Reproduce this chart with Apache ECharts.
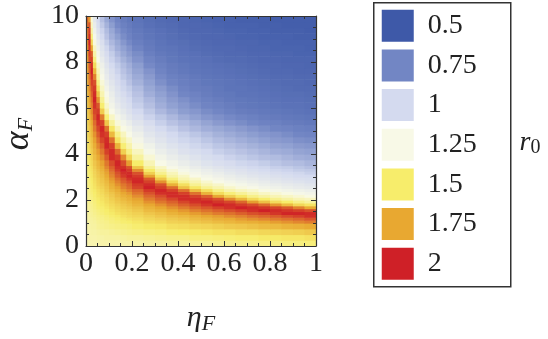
<!DOCTYPE html>
<html><head><meta charset="utf-8">
<script src="https://cdn.jsdelivr.net/npm/echarts@6/dist/echarts.min.js"></script>
<style>html,body{margin:0;padding:0;background:#fff}#c{width:548px;height:339px}</style>
</head><body><div id="c"></div>
<script>
const FONT = '"Liberation Serif","Times New Roman",serif';
// cell edges (eta_F columns, alpha_F rows)
const etaEdges = [0,0.01,0.02,0.03,0.045,0.06,0.08,0.1,0.125,0.15,0.175,0.2,0.25,0.3,0.35,0.4,0.45,0.5,0.55,0.6,0.65,0.7,0.75,0.8,0.85,0.9,0.95,1];
const alphaEdges = [0,0.25,0.5,0.75,1,
  1.125,1.25,1.375,1.5,1.625,1.75,1.875,2,2.125,2.25,2.375,2.5,2.625,2.75,2.875,3,3.125,3.25,3.375,3.5,
  3.75,4,4.25,4.5,4.75,5,
  5.25,5.5,5.75,6,6.25,6.5,6.75,7,7.25,7.5,7.75,8,8.25,8.5,8.75,9,9.25,9.5,9.75,10];
// r0: one row per alpha band (bottom to top), one value per eta band
const r0Values = [
[1.36,1.36,1.36,1.36,1.37,1.37,1.37,1.37,1.37,1.38,1.38,1.38,1.39,1.39,1.40,1.40,1.41,1.41,1.42,1.43,1.44,1.44,1.45,1.45,1.46,1.46,1.47],
[1.36,1.37,1.37,1.37,1.38,1.38,1.39,1.39,1.39,1.40,1.41,1.41,1.42,1.43,1.44,1.44,1.46,1.46,1.47,1.48,1.49,1.49,1.51,1.51,1.52,1.52,1.54],
[1.37,1.37,1.38,1.38,1.39,1.40,1.40,1.41,1.42,1.43,1.44,1.45,1.46,1.47,1.49,1.50,1.51,1.52,1.54,1.54,1.56,1.56,1.58,1.59,1.60,1.61,1.63],
[1.37,1.38,1.39,1.39,1.41,1.42,1.43,1.44,1.45,1.46,1.47,1.49,1.51,1.52,1.55,1.56,1.58,1.59,1.61,1.63,1.64,1.66,1.68,1.69,1.71,1.72,1.74],
[1.38,1.39,1.39,1.40,1.42,1.43,1.44,1.46,1.47,1.49,1.50,1.52,1.55,1.57,1.60,1.61,1.64,1.66,1.68,1.70,1.72,1.73,1.75,1.77,1.79,1.81,1.83],
[1.38,1.39,1.40,1.41,1.43,1.44,1.46,1.47,1.49,1.51,1.53,1.55,1.58,1.60,1.63,1.65,1.68,1.70,1.73,1.74,1.77,1.79,1.81,1.83,1.85,1.87,1.90],
[1.38,1.40,1.41,1.42,1.44,1.45,1.47,1.49,1.51,1.54,1.56,1.58,1.61,1.64,1.67,1.69,1.72,1.75,1.77,1.80,1.82,1.85,1.87,1.89,1.92,1.94,1.97],
[1.39,1.40,1.41,1.43,1.45,1.47,1.49,1.51,1.54,1.56,1.58,1.60,1.64,1.67,1.71,1.74,1.77,1.80,1.83,1.85,1.88,1.91,1.93,1.96,1.99,1.99,1.98],
[1.39,1.41,1.42,1.44,1.46,1.48,1.50,1.53,1.56,1.58,1.60,1.63,1.68,1.71,1.75,1.78,1.82,1.85,1.88,1.91,1.94,1.97,2.00,1.98,1.96,1.94,1.91],
[1.40,1.41,1.43,1.45,1.48,1.49,1.52,1.55,1.58,1.61,1.63,1.66,1.71,1.75,1.79,1.83,1.87,1.90,1.94,1.97,2.00,1.98,1.96,1.93,1.89,1.82,1.74],
[1.40,1.42,1.43,1.46,1.49,1.51,1.54,1.57,1.60,1.63,1.66,1.70,1.75,1.79,1.84,1.88,1.92,1.96,2.00,1.98,1.95,1.92,1.86,1.78,1.68,1.58,1.53],
[1.40,1.43,1.44,1.47,1.50,1.52,1.56,1.59,1.63,1.66,1.69,1.73,1.79,1.84,1.88,1.93,1.97,1.99,1.96,1.93,1.87,1.77,1.66,1.56,1.50,1.44,1.40],
[1.41,1.43,1.45,1.48,1.51,1.54,1.57,1.61,1.65,1.69,1.72,1.76,1.83,1.88,1.93,1.98,1.98,1.95,1.91,1.80,1.69,1.57,1.50,1.43,1.39,1.35,1.33],
[1.41,1.44,1.46,1.49,1.53,1.55,1.59,1.63,1.68,1.72,1.75,1.80,1.87,1.92,1.98,1.98,1.94,1.88,1.75,1.61,1.52,1.44,1.39,1.35,1.32,1.29,1.26],
[1.42,1.45,1.47,1.50,1.54,1.57,1.61,1.65,1.70,1.75,1.78,1.84,1.91,1.97,1.98,1.94,1.85,1.71,1.56,1.47,1.41,1.36,1.32,1.29,1.26,1.23,1.21],
[1.42,1.45,1.48,1.51,1.55,1.58,1.63,1.68,1.73,1.78,1.82,1.87,1.95,1.99,1.94,1.85,1.68,1.55,1.44,1.37,1.33,1.30,1.26,1.23,1.21,1.19,1.17],
[1.43,1.46,1.49,1.53,1.57,1.60,1.65,1.71,1.76,1.82,1.86,1.93,2.00,1.95,1.86,1.66,1.52,1.42,1.36,1.31,1.27,1.24,1.21,1.19,1.16,1.14,1.12],
[1.43,1.47,1.49,1.54,1.59,1.62,1.67,1.73,1.79,1.84,1.88,1.95,1.98,1.91,1.72,1.55,1.42,1.35,1.31,1.26,1.23,1.20,1.17,1.15,1.13,1.11,1.09],
[1.44,1.47,1.50,1.55,1.60,1.64,1.69,1.76,1.82,1.88,1.92,1.99,1.94,1.79,1.57,1.43,1.36,1.30,1.25,1.22,1.19,1.16,1.14,1.11,1.09,1.07,1.05],
[1.44,1.48,1.51,1.56,1.61,1.65,1.71,1.78,1.85,1.90,1.96,1.98,1.89,1.64,1.46,1.36,1.31,1.25,1.22,1.18,1.15,1.13,1.10,1.08,1.06,1.04,1.03],
[1.45,1.49,1.52,1.58,1.63,1.67,1.74,1.81,1.89,1.95,1.99,1.95,1.76,1.52,1.38,1.32,1.25,1.22,1.18,1.15,1.12,1.09,1.07,1.05,1.03,1.01,1.00],
[1.45,1.50,1.53,1.59,1.64,1.69,1.76,1.83,1.91,1.97,1.98,1.91,1.61,1.43,1.34,1.27,1.22,1.18,1.15,1.11,1.08,1.06,1.04,1.02,1.00,0.99,0.97],
[1.46,1.51,1.54,1.60,1.66,1.71,1.78,1.86,1.95,2.00,1.95,1.80,1.51,1.37,1.29,1.23,1.19,1.15,1.11,1.08,1.06,1.03,1.01,0.99,0.98,0.96,0.95],
[1.46,1.51,1.55,1.62,1.68,1.73,1.81,1.88,1.97,1.97,1.91,1.65,1.42,1.32,1.24,1.20,1.15,1.11,1.08,1.05,1.03,1.00,0.99,0.97,0.96,0.94,0.92],
[1.47,1.53,1.57,1.64,1.70,1.76,1.84,1.92,1.99,1.92,1.77,1.50,1.35,1.25,1.20,1.15,1.11,1.07,1.04,1.02,0.99,0.98,0.96,0.94,0.92,0.91,0.89],
[1.49,1.54,1.59,1.67,1.74,1.80,1.89,1.98,1.95,1.81,1.58,1.40,1.29,1.21,1.15,1.11,1.07,1.03,1.01,0.98,0.96,0.94,0.92,0.91,0.89,0.87,0.86],
[1.50,1.56,1.62,1.70,1.77,1.84,1.94,1.98,1.87,1.61,1.45,1.33,1.23,1.16,1.11,1.06,1.03,1.00,0.97,0.95,0.93,0.91,0.89,0.87,0.86,0.84,0.83],
[1.51,1.58,1.64,1.73,1.81,1.88,1.99,1.94,1.71,1.48,1.37,1.27,1.19,1.12,1.07,1.03,0.99,0.97,0.94,0.92,0.90,0.88,0.86,0.84,0.83,0.81,0.80],
[1.52,1.60,1.66,1.76,1.85,1.93,1.98,1.85,1.54,1.39,1.31,1.22,1.14,1.08,1.03,0.99,0.97,0.94,0.91,0.89,0.87,0.85,0.83,0.81,0.80,0.78,0.77],
[1.54,1.62,1.69,1.79,1.89,1.97,1.94,1.69,1.44,1.33,1.25,1.18,1.10,1.05,1.00,0.97,0.94,0.91,0.88,0.86,0.84,0.82,0.80,0.79,0.77,0.75,0.74],
[1.55,1.64,1.71,1.83,1.93,1.99,1.85,1.52,1.35,1.26,1.21,1.13,1.06,1.01,0.97,0.93,0.90,0.87,0.85,0.83,0.81,0.79,0.77,0.75,0.74,0.72,0.71],
[1.56,1.66,1.74,1.86,1.97,1.94,1.64,1.40,1.28,1.21,1.15,1.08,1.02,0.97,0.93,0.90,0.87,0.84,0.81,0.79,0.77,0.75,0.73,0.72,0.70,0.69,0.68],
[1.58,1.68,1.77,1.90,1.99,1.83,1.48,1.32,1.22,1.16,1.10,1.04,0.98,0.94,0.90,0.86,0.83,0.80,0.78,0.76,0.74,0.72,0.70,0.69,0.68,0.67,0.66],
[1.59,1.70,1.80,1.93,1.95,1.62,1.37,1.25,1.17,1.11,1.06,1.00,0.95,0.90,0.86,0.82,0.80,0.77,0.75,0.72,0.70,0.69,0.68,0.67,0.66,0.65,0.64],
[1.61,1.73,1.82,1.97,1.90,1.49,1.31,1.21,1.13,1.07,1.03,0.97,0.92,0.87,0.83,0.80,0.77,0.74,0.72,0.70,0.68,0.67,0.66,0.65,0.64,0.64,0.63],
[1.62,1.75,1.85,2.00,1.79,1.42,1.27,1.18,1.10,1.05,1.00,0.95,0.90,0.85,0.81,0.78,0.75,0.72,0.70,0.68,0.67,0.66,0.65,0.64,0.63,0.63,0.62],
[1.64,1.77,1.88,1.98,1.66,1.36,1.24,1.15,1.07,1.02,0.98,0.93,0.87,0.83,0.79,0.75,0.73,0.70,0.68,0.67,0.65,0.65,0.64,0.63,0.62,0.62,0.61],
[1.66,1.79,1.91,1.95,1.55,1.32,1.20,1.12,1.05,0.99,0.96,0.91,0.85,0.81,0.77,0.73,0.70,0.69,0.67,0.65,0.65,0.64,0.63,0.62,0.61,0.60,0.60],
[1.67,1.82,1.94,1.91,1.46,1.28,1.17,1.09,1.02,0.98,0.93,0.88,0.83,0.78,0.74,0.71,0.69,0.67,0.66,0.65,0.64,0.63,0.62,0.61,0.60,0.60,0.59],
[1.69,1.84,1.97,1.82,1.40,1.24,1.14,1.06,1.00,0.95,0.91,0.86,0.81,0.76,0.72,0.70,0.68,0.66,0.65,0.64,0.63,0.62,0.61,0.60,0.60,0.59,0.59],
[1.71,1.87,2.00,1.70,1.35,1.21,1.11,1.04,0.98,0.93,0.89,0.84,0.79,0.74,0.70,0.68,0.66,0.65,0.64,0.63,0.62,0.61,0.60,0.59,0.59,0.58,0.58],
[1.72,1.89,1.98,1.57,1.31,1.18,1.08,1.01,0.96,0.91,0.87,0.82,0.76,0.72,0.69,0.67,0.65,0.64,0.63,0.62,0.61,0.60,0.59,0.59,0.58,0.58,0.57],
[1.74,1.92,1.94,1.46,1.25,1.14,1.05,0.98,0.93,0.88,0.84,0.79,0.74,0.70,0.67,0.65,0.64,0.63,0.61,0.60,0.60,0.59,0.58,0.58,0.57,0.57,0.57],
[1.76,1.94,1.89,1.38,1.22,1.10,1.02,0.96,0.90,0.85,0.81,0.77,0.71,0.68,0.66,0.64,0.63,0.61,0.60,0.59,0.59,0.58,0.58,0.57,0.57,0.56,0.56],
[1.78,1.97,1.75,1.33,1.18,1.07,0.99,0.93,0.87,0.83,0.79,0.74,0.69,0.66,0.65,0.63,0.61,0.60,0.59,0.59,0.58,0.57,0.57,0.56,0.56,0.56,0.55],
[1.79,2.00,1.58,1.27,1.14,1.04,0.96,0.90,0.85,0.80,0.76,0.71,0.68,0.65,0.63,0.62,0.60,0.59,0.58,0.58,0.57,0.57,0.56,0.56,0.55,0.55,0.55],
[1.81,1.98,1.47,1.23,1.10,1.00,0.93,0.87,0.82,0.77,0.73,0.69,0.66,0.64,0.62,0.60,0.59,0.58,0.58,0.57,0.56,0.56,0.55,0.55,0.55,0.54,0.54],
[1.83,1.95,1.39,1.19,1.06,0.98,0.91,0.85,0.79,0.75,0.71,0.68,0.65,0.63,0.61,0.59,0.58,0.58,0.57,0.56,0.56,0.55,0.55,0.54,0.54,0.54,0.53],
[1.85,1.90,1.33,1.15,1.03,0.95,0.88,0.82,0.76,0.72,0.69,0.66,0.63,0.61,0.60,0.58,0.58,0.57,0.56,0.55,0.55,0.55,0.54,0.54,0.53,0.53,0.53],
[1.87,1.77,1.28,1.11,1.00,0.92,0.85,0.79,0.74,0.70,0.67,0.65,0.62,0.60,0.59,0.58,0.57,0.56,0.55,0.55,0.54,0.54,0.54,0.53,0.53,0.53,0.53]
];
const legendValues = [0.5,0.75,1,1.25,1.5,1.75,2];
const legendLabels = ['0.5','0.75','1','1.25','1.5','1.75','2'];
const legendColors = ['#3e59a8','#7286c4','#d4daef','#f8f9e7','#f7ed6b','#e8a831','#cf2027'];

function draw() {
  const cells = [];
  for (let i = 0; i < alphaEdges.length - 1; i++) {
    for (let j = 0; j < etaEdges.length - 1; j++) {
      if (r0Values[i] && r0Values[i][j] != null)
        cells.push([etaEdges[j], etaEdges[j+1], alphaEdges[i], alphaEdges[i+1], r0Values[i][j]]);
    }
  }
  const tickCol = '#333';
  function frameAxis(isX, pos, showLabel) {
    return {type:'value', min:0, max:isX?1:10, interval:isX?0.2:2, position:pos, z:10,
      axisLine:{show:true, onZero:false, lineStyle:{color:tickCol, width:1.2}},
      axisTick:{show:true, inside:true, length:5, lineStyle:{color:tickCol, width:1}},
      minorTick:{show:true, splitNumber:4, length:3, lineStyle:{color:tickCol, width:1}},
      splitLine:{show:false}, minorSplitLine:{show:false},
      axisLabel:{show:showLabel, fontFamily:FONT, fontSize:28, color:'#222', margin:isX?4:7}};
  }
  const chart = echarts.init(document.getElementById('c'), null, {renderer:'canvas'});
  chart.setOption({
    animation:false,
    backgroundColor:'#fff',
    grid:{left:86, top:16, width:230, height:230, outerBoundsMode:'none', containLabel:false},
    xAxis:[frameAxis(true,'bottom',true), frameAxis(true,'top',false)],
    yAxis:[frameAxis(false,'left',true), frameAxis(false,'right',false)],
    visualMap:[
      {type:'continuous', show:false, seriesIndex:0, dimension:4, min:0.5, max:2,
        inRange:{color:legendColors}},
      {type:'piecewise', seriesIndex:1, orient:'vertical', inverse:true, align:'left', left:373, top:2,
        pieces: legendValues.map((v,i)=>({value:v, label:legendLabels[i], color:legendColors[i]})),
        itemWidth:32, itemHeight:32, itemGap:7.67, itemSymbol:'rect', textGap:14,
        padding:[7,34,7,8], borderColor:'#333', borderWidth:1.5, backgroundColor:'#fff',
        selectedMode:false, hoverLink:false,
        textStyle:{fontFamily:FONT, fontSize:28, color:'#222'}}
    ],
    series:[
      {type:'custom', xAxisIndex:0, yAxisIndex:0, data:cells, clip:true,
        encode:{x:[0,1], y:[2,3]},
        renderItem:function(params, api){
          const a = api.coord([api.value(0), api.value(3)]);
          const b = api.coord([api.value(1), api.value(2)]);
          return {type:'rect', shape:{x:a[0], y:a[1], width:b[0]-a[0]+0.6, height:b[1]-a[1]+0.6},
            style:{fill:api.visual('color')}};
        }},
      {type:'scatter', data:[], xAxisIndex:0, yAxisIndex:0}
    ],
    graphic:[
      {type:'text', x:201, y:318, style:{text:'{a|η}{s|F}', align:'center', verticalAlign:'middle',
        rich:{a:{fontFamily:FONT, fontStyle:'italic', fontSize:30, lineHeight:34, fill:'#222'},
              s:{fontFamily:FONT, fontStyle:'italic', fontSize:22, lineHeight:22, verticalAlign:'bottom', fill:'#222'}}}},
      {type:'text', x:19, y:134, rotation:Math.PI/2, style:{text:'{a|α}{s|F}', align:'center', verticalAlign:'middle',
        rich:{a:{fontFamily:FONT, fontStyle:'italic', fontSize:36, lineHeight:36, fill:'#222'},
              s:{fontFamily:FONT, fontStyle:'italic', fontSize:22, lineHeight:22, verticalAlign:'bottom', fill:'#222'}}}},
      {type:'text', x:530, y:143, style:{text:'{a|r}{s|0}', align:'center', verticalAlign:'middle',
        rich:{a:{fontFamily:FONT, fontStyle:'italic', fontSize:28, lineHeight:30, fill:'#222'},
              s:{fontFamily:FONT, fontSize:20, lineHeight:20, verticalAlign:'bottom', fill:'#222'}}}}
    ]
  });
}
const loads = (document.fonts && document.fonts.load) ?
  Promise.all([document.fonts.load('28px "Liberation Serif"'), document.fonts.load('italic 28px "Liberation Serif"')]) :
  Promise.resolve();
loads.then(draw, draw);
</script></body></html>
